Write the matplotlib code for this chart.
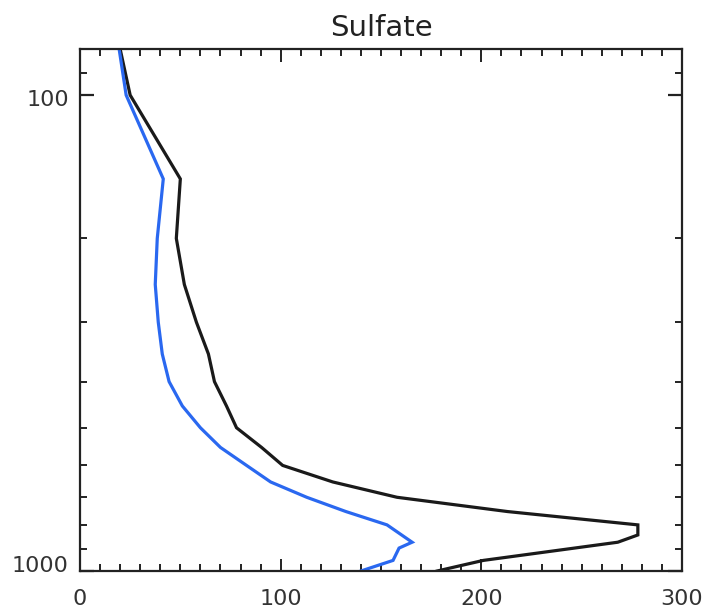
import matplotlib
matplotlib.use("Agg")
import matplotlib.pyplot as plt
import matplotlib.transforms as mtransforms
from matplotlib.ticker import FixedLocator, NullFormatter, FixedFormatter

title = "Sulfate"

p_black = [80, 100, 150, 200, 250, 300, 350, 400, 450, 500, 550, 600, 650, 700, 750, 800, 840, 870, 950, 1000]
v_black = [20, 25, 50, 48, 52, 58, 64, 67, 73, 78, 90.5, 101, 126, 158, 213, 278, 278, 268, 201, 178]

p_blue = [80, 100, 150, 200, 250, 300, 350, 400, 450, 500, 550, 600, 650, 700, 750, 800, 870, 895, 950, 1000]
v_blue = [19.5, 23, 41.5, 38.5, 37.5, 39, 41, 44.4, 51, 60, 70, 83, 95, 113, 132.5, 153, 165.5, 159, 156, 140]

y_major = [100, 1000]
y_minor = [90, 200, 300, 400, 500, 600, 700, 800, 900]
x_major = [0, 100, 200, 300]

plt.rcParams['font.family'] = ['DejaVu Sans']
fig = plt.figure(figsize=(7.08, 6.15), dpi=100)
ax = fig.add_axes([80/708, 1 - 571/615, (682 - 80)/708, (571 - 49)/615])

ax.plot(v_black, p_black, color='#1a1a1a', lw=2.3, solid_joinstyle='miter')
ax.plot(v_blue, p_blue, color='#2a68f0', lw=2.3, solid_joinstyle='miter')

ax.set_yscale('log')
ax.set_ylim(1000, 80)
ax.set_xlim(0, 300)

ax.yaxis.set_major_locator(FixedLocator(y_major))
ax.yaxis.set_major_formatter(FixedFormatter([str(v) for v in y_major]))
ax.yaxis.set_minor_locator(FixedLocator(y_minor))
ax.yaxis.set_minor_formatter(NullFormatter())
ax.xaxis.set_major_locator(FixedLocator(x_major))
ax.xaxis.set_minor_locator(FixedLocator(list(range(0, 301, 10))))

for s in ax.spines.values():
    s.set_linewidth(1.6)
    s.set_color('#222222')

ax.tick_params(axis='both', which='both', direction='in', top=True, right=True,
               color='#222222', labelcolor='#333333', labelsize=16)
ax.tick_params(axis='y', which='major', length=10, width=1.6, pad=8)
ax.tick_params(axis='y', which='minor', length=5, width=1.4)
ax.tick_params(axis='x', which='major', length=9, width=1.4, pad=13)
ax.tick_params(axis='x', which='minor', length=5, width=1.4)

# IDL-like label offsets: 100 slightly below its tick, 1000 raised above the axis
offsets = {100: -3, 1000: 7}
for tick, val in zip(ax.yaxis.get_major_ticks(), y_major):
    off = mtransforms.ScaledTranslation(0, offsets[val] / 100, fig.dpi_scale_trans)
    tick.label1.set_transform(tick.label1.get_transform() + off)

ax.set_title(title, fontsize=21, color='#222222', pad=9)

fig.savefig("out.png", dpi=100)
